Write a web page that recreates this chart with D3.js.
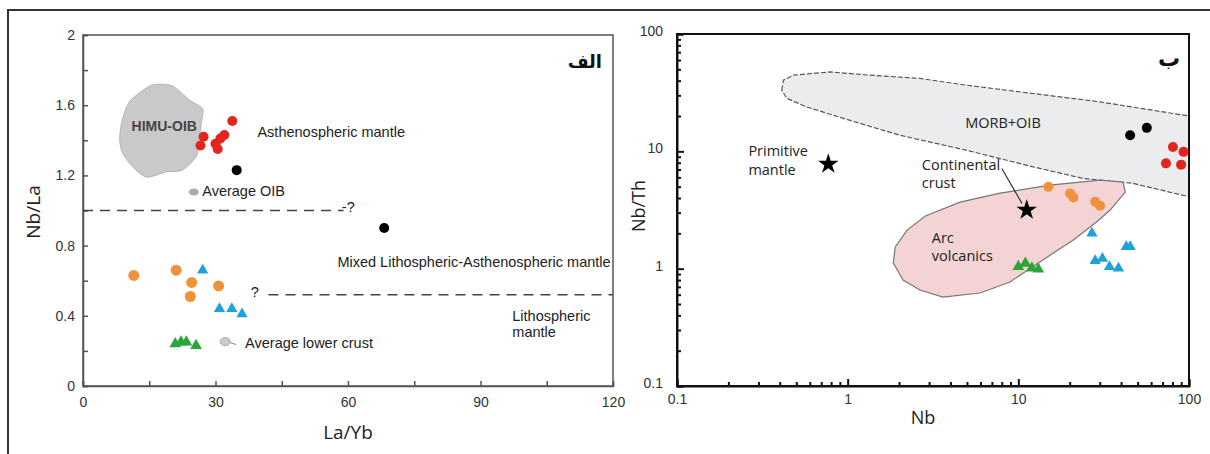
<!DOCTYPE html>
<html>
<head>
<meta charset="utf-8">
<script src="https://cdn.jsdelivr.net/npm/d3@7"></script>
<style>
  body { margin: 0; background: #fff; }
  svg { display: block; }
  .tick text { font-family: "Liberation Sans", Arial, sans-serif; font-size: 14px; fill: #333; }
</style>
</head>
<body>
<svg width="1210" height="454"></svg>
<script>
// ---- left panel data: La/Yb vs Nb/La ----
var leftRed = [[27.3, 1.42], [26.6, 1.37], [30.5, 1.35], [31.1, 1.41], [32.0, 1.43], [33.8, 1.51], [30.0, 1.38]];
var leftBlack = [[34.8, 1.23], [68.2, 0.90]];
var leftOrange = [[11.5, 0.63], [21.1, 0.66], [24.6, 0.59], [24.3, 0.51], [30.7, 0.57]];
var leftBlue = [[27.1, 0.66], [30.9, 0.44], [33.7, 0.44], [36.0, 0.41]];
var leftGreen = [[20.9, 0.24], [22.2, 0.25], [23.4, 0.25], [25.6, 0.23]];
var avgOIB = [25.1, 1.105];
var avgLowerCrust = [32.2, 0.253];
var himuOIB = [[16.6, 1.72], [20.3, 1.71], [24.1, 1.63], [27.1, 1.58], [26.8, 1.50], [26.4, 1.42], [25.7, 1.31],
  [22.5, 1.23], [18.9, 1.22], [14.4, 1.19], [11.2, 1.25], [8.9, 1.33], [8.3, 1.41], [8.9, 1.52], [10.5, 1.62],
  [12.8, 1.67], [15.1, 1.71]];
var leftXTicks = [0, 15, 30, 45, 60, 75, 90, 105, 120];
var leftYTicks = [0, 0.2, 0.4, 0.6, 0.8, 1.0, 1.2, 1.4, 1.6, 1.8, 2.0];

// ---- right panel data: Nb vs Nb/Th (log-log) ----
var rightRed = [[80.5, 10.9], [92.9, 9.9], [73.3, 7.9], [89.9, 7.7]];
var rightBlack = [[45.2, 13.7], [56.6, 15.85]];
var rightOrange = [[15.0, 4.98], [20.1, 4.38], [21.0, 4.05], [28.2, 3.72], [30.1, 3.44]];
var rightBlue = [[27.0, 2.0], [42.9, 1.54], [45.2, 1.54], [28.2, 1.17], [31.1, 1.22], [34.2, 1.04], [38.6, 1.01]];
var rightGreen = [[10.0, 1.04], [11.0, 1.11], [12.0, 1.01], [13.1, 0.99]];
var primitiveMantle = [0.77, 7.78];
var continentalCrust = [11.2, 3.16];
var morbOIB = [[0.411, 33.2], [0.42, 40.4], [0.481, 44.6], [0.788, 47.5], [1.35, 44.6], [2.65, 41.8], [4.99, 36.6],
  [12.2, 31.1], [30.1, 26.4], [100, 20.0], [100, 4.1], [47.1, 5.33], [24.0, 5.87], [12.2, 7.38], [4.99, 10.2],
  [2.03, 13.7], [1.18, 17.3], [0.824, 20.3], [0.575, 23.9], [0.44, 28.3]];
var arcVolcanics = [[4.56, 3.69], [7.82, 4.40], [15.3, 5.15], [30.1, 5.69], [41.1, 5.47], [42.3, 4.49], [34.5, 3.16],
  [28.6, 2.49], [20.9, 1.75], [14.8, 1.26], [11.3, 0.97], [8.95, 0.77], [5.97, 0.62], [3.62, 0.573], [2.65, 0.658],
  [2.11, 0.80], [1.85, 1.12], [1.90, 1.53], [2.23, 2.13], [2.85, 2.81]];
var rightDecades = [0.1, 1, 10, 100];

var colors = { red: "#e52420", orange: "#f0923a", blue: "#1ea2dc", green: "#2ba53a", black: "#000" };

var svg = d3.select("svg");
var sans = "'Liberation Sans', Arial, sans-serif";
var open = "'Open Sans', sans-serif";

// outer frame (top and left only are visible)
svg.append("path").attr("d", "M8,454V10H1210").attr("fill", "none").attr("stroke", "#333").attr("stroke-width", 2);

// ================= LEFT PANEL =================
var xL = d3.scaleLinear().domain([0, 120]).range([83, 613]);
var yL = d3.scaleLinear().domain([0, 2]).range([386, 35]);
var gL = svg.append("g");

gL.append("rect")
  .attr("x", xL(0)).attr("y", yL(2)).attr("width", xL(120) - xL(0)).attr("height", yL(0) - yL(2))
  .attr("fill", "none").attr("stroke", "#555").attr("stroke-width", 1.5);

gL.append("g").attr("transform", "translate(0," + yL(0) + ")")
  .call(d3.axisBottom(xL).tickValues(leftXTicks).tickSize(-5).tickPadding(11)
    .tickFormat(d => d % 30 === 0 ? d : ""))
  .call(g => g.selectAll("path,line").attr("stroke", "#555").attr("stroke-width", 1.5));

gL.append("g").attr("transform", "translate(" + xL(0) + ",0)")
  .call(d3.axisLeft(yL).tickValues(leftYTicks).tickSize(-5).tickPadding(8)
    .tickFormat(d => Math.round(d * 10) % 4 === 0 ? String(+d.toFixed(1)) : ""))
  .call(g => g.selectAll("path,line").attr("stroke", "#555").attr("stroke-width", 1.5));

// HIMU-OIB field
gL.append("path")
  .attr("d", d3.line().x(d => xL(d[0])).y(d => yL(d[1])).curve(d3.curveCardinalClosed.tension(0.3))(himuOIB))
  .attr("fill", "#c9c9c9").attr("stroke", "#b5b5b5").attr("stroke-width", 1);

// dashed boundaries
gL.append("line").attr("x1", xL(0)).attr("x2", xL(59)).attr("y1", yL(1)).attr("y2", yL(1))
  .attr("stroke", "#444").attr("stroke-width", 1.5).attr("stroke-dasharray", "10,7");
gL.append("line").attr("x1", xL(42)).attr("x2", xL(120)).attr("y1", yL(0.52)).attr("y2", yL(0.52))
  .attr("stroke", "#444").attr("stroke-width", 1.5).attr("stroke-dasharray", "10,7");

// average markers
gL.append("ellipse").attr("cx", xL(avgOIB[0])).attr("cy", yL(avgOIB[1])).attr("rx", 5).attr("ry", 3.5).attr("fill", "#aaa");
gL.append("ellipse").attr("cx", xL(avgLowerCrust[0])).attr("cy", yL(avgLowerCrust[1])).attr("rx", 5).attr("ry", 4)
  .attr("fill", "#ccc").attr("stroke", "#aaa");
gL.append("line").attr("x1", xL(avgLowerCrust[0]) + 5).attr("y1", yL(avgLowerCrust[1]) + 1)
  .attr("x2", xL(avgLowerCrust[0]) + 11).attr("y2", yL(avgLowerCrust[1]) + 3).attr("stroke", "#888");

function drawCircles(g, data, x, y, color, r) {
  g.append("g").selectAll("circle").data(data).enter().append("circle")
    .attr("cx", d => x(d[0])).attr("cy", d => y(d[1])).attr("r", r).attr("fill", color);
}
function drawSymbols(g, data, x, y, color, type, size) {
  g.append("g").selectAll("path").data(data).enter().append("path")
    .attr("d", d3.symbol().type(type).size(size))
    .attr("transform", d => "translate(" + x(d[0]) + "," + y(d[1]) + ")")
    .attr("fill", color);
}

drawCircles(gL, leftRed, xL, yL, colors.red, 5);
drawCircles(gL, leftBlack, xL, yL, colors.black, 5);
drawCircles(gL, leftOrange, xL, yL, colors.orange, 5.5);
drawSymbols(gL, leftBlue, xL, yL, colors.blue, d3.symbolTriangle, 55);
drawSymbols(gL, leftGreen, xL, yL, colors.green, d3.symbolTriangle, 60);

// left annotations
var leftLabels = [
  { t: "HIMU-OIB", x: 11.0, y: 1.455, w: "bold" },
  { t: "Asthenospheric mantle", x: 39.5, y: 1.42 },
  { t: "Average OIB", x: 27.0, y: 1.08 },
  { t: "-?", x: 58.6, y: 0.99 },
  { t: "?", x: 38.0, y: 0.507 },
  { t: "Mixed Lithospheric-Asthenospheric mantle", x: 57.6, y: 0.68 },
  { t: "Lithospheric", x: 97.2, y: 0.371 },
  { t: "mantle", x: 97.2, y: 0.277 },
  { t: "Average lower crust", x: 36.7, y: 0.217 }
];
gL.append("g").selectAll("text").data(leftLabels).enter().append("text")
  .attr("x", d => xL(d.x)).attr("y", d => yL(d.y)).text(d => d.t)
  .attr("font-family", sans).attr("font-size", d => d.w ? 14 : 14.5).attr("font-weight", d => d.w || "normal")
  .attr("fill", d => d.w ? "#444" : "#222");

gL.append("text").attr("x", 602).attr("y", 68).attr("text-anchor", "end")
  .attr("font-family", "'DejaVu Sans', sans-serif").attr("font-weight", "bold").attr("font-size", 18)
  .attr("fill", "#111").text("الف");

gL.append("text").attr("transform", "translate(40," + 212 + ") rotate(-90)").attr("text-anchor", "middle")
  .attr("font-family", open).attr("font-size", 19).attr("fill", "#222").text("Nb/La");
gL.append("text").attr("x", (xL(0) + xL(120)) / 2).attr("y", 439).attr("text-anchor", "middle")
  .attr("font-family", open).attr("font-size", 19).attr("fill", "#222").text("La/Yb");

// ================= RIGHT PANEL =================
var xR = d3.scaleLog().domain([0.1, 100]).range([677, 1189]);
var yR = d3.scaleLog().domain([0.1, 100]).range([386, 34]);
var gR = svg.append("g");

var logTicks = [];
rightDecades.slice(0, 3).forEach(function (dec) {
  for (var k = 1; k < 10; k++) logTicks.push(+(dec * k).toPrecision(3));
});
logTicks.push(100);
function isDecade(d) { return rightDecades.indexOf(d) >= 0; }

// fields first
gR.append("clipPath").attr("id", "clipR").append("rect")
  .attr("x", xR(0.1)).attr("y", yR(100)).attr("width", xR(100) - xR(0.1)).attr("height", yR(0.1) - yR(100));

gR.append("path")
  .attr("d", d3.line().x(d => xR(d[0])).y(d => yR(d[1])).curve(d3.curveLinearClosed)(morbOIB))
  .attr("clip-path", "url(#clipR)")
  .attr("fill", "#ebeced").attr("stroke", "#555").attr("stroke-width", 1.2).attr("stroke-dasharray", "5,2");

gR.append("path")
  .attr("d", d3.line().x(d => xR(d[0])).y(d => yR(d[1])).curve(d3.curveLinearClosed)(arcVolcanics))
  .attr("fill", "#f3d3d3").attr("stroke", "#777").attr("stroke-width", 1.2);

gR.append("rect")
  .attr("x", xR(0.1)).attr("y", yR(100)).attr("width", xR(100) - xR(0.1)).attr("height", yR(0.1) - yR(100))
  .attr("fill", "none").attr("stroke", "#111").attr("stroke-width", 2);

gR.append("g").attr("transform", "translate(0," + yR(0.1) + ")")
  .call(d3.axisBottom(xR).tickValues(logTicks).tickSize(-6).tickPadding(8)
    .tickFormat(d => isDecade(d) ? String(d) : ""))
  .call(g => g.selectAll("path,line").attr("stroke", "#111").attr("stroke-width", 2))
  .call(g => g.selectAll(".tick line").attr("y2", d => isDecade(d) ? -7 : -4));

gR.append("g").attr("transform", "translate(" + xR(0.1) + ",0)")
  .call(d3.axisLeft(yR).tickValues(logTicks).tickSize(-6).tickPadding(14)
    .tickFormat(d => isDecade(d) ? String(d) : ""))
  .call(g => g.selectAll("path,line").attr("stroke", "#111").attr("stroke-width", 2))
  .call(g => g.selectAll(".tick line").attr("x2", d => isDecade(d) ? 7 : 4))
  .call(g => g.selectAll(".tick text").attr("dy", "0.1em"));

drawCircles(gR, rightBlack, xR, yR, colors.black, 5);
drawCircles(gR, rightRed, xR, yR, colors.red, 5);
drawCircles(gR, rightOrange, xR, yR, colors.orange, 5);
drawSymbols(gR, rightBlue, xR, yR, colors.blue, d3.symbolTriangle, 55);
drawSymbols(gR, rightGreen, xR, yR, colors.green, d3.symbolTriangle, 60);

// arrow from "Continental crust" label to the star
gR.append("line").attr("x1", xR(8.0)).attr("y1", yR(7.14)).attr("x2", xR(10.5)).attr("y2", yR(3.6))
  .attr("stroke", "#333").attr("stroke-width", 1.2);
drawSymbols(gR, [primitiveMantle, continentalCrust], xR, yR, colors.black, d3.symbolStar, 130);

var rightLabels = [
  { t: "MORB+OIB", x: 4.88, y: 15.8 },
  { t: "Primitive", x: 0.262, y: 9.1 },
  { t: "mantle", x: 0.262, y: 6.33 },
  { t: "Continental", x: 2.72, y: 6.92 },
  { t: "crust", x: 2.72, y: 4.86 },
  { t: "Arc", x: 3.11, y: 1.65 },
  { t: "volcanics", x: 3.11, y: 1.16 }
];
gR.append("g").selectAll("text").data(rightLabels).enter().append("text")
  .attr("x", d => xR(d.x)).attr("y", d => yR(d.y)).text(d => d.t)
  .attr("font-family", open).attr("font-size", 14.5).attr("fill", "#222");

gR.append("text").attr("x", 1180).attr("y", 66).attr("text-anchor", "end")
  .attr("font-family", "'DejaVu Sans', sans-serif").attr("font-weight", "bold").attr("font-size", 22)
  .attr("fill", "#111").text("ب");

gR.append("text").attr("transform", "translate(645," + 206 + ") rotate(-90)").attr("text-anchor", "middle")
  .attr("font-family", open).attr("font-size", 18).attr("fill", "#222").text("Nb/Th");
gR.append("text").attr("x", 923).attr("y", 424).attr("text-anchor", "middle")
  .attr("font-family", open).attr("font-size", 18).attr("fill", "#222").text("Nb");
</script>
</body>
</html>
